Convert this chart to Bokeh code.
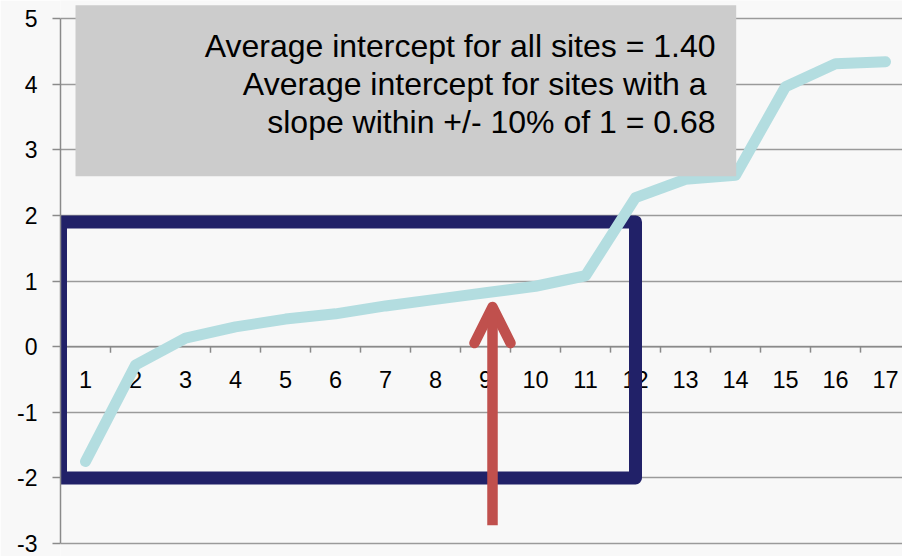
from bokeh.plotting import figure
from bokeh.models import Range1d, FixedTicker, Span, Arrow, OpenHead
from bokeh.core.properties import value
from bokeh.embed import file_html
from bokeh.resources import INLINE
import numpy as np

# Site number (sorted by intercept) and fitted intercept
sites = [str(i) for i in range(1, 18)]
intercepts = [-1.75, -0.28, 0.13, 0.30, 0.42, 0.50, 0.62, 0.72, 0.82,
              0.92, 1.08, 2.27, 2.55, 2.61, 3.96, 4.31, 4.34]
y_ticks = [-3, -2, -1, 0, 1, 2, 3, 4, 5]
y_tick_labels = ["-3", "-2", "-1", "0", "1", "2", "3", "4", "5"]
note_lines = ["Average intercept for all sites = 1.40",
              "Average intercept for sites with a",
              "slope within +/- 10% of 1 = 0.68"]

W, H = 902, 556
LEFT = 60            # frame left edge in px
X_UNIT = 50          # px per category
Y_UNIT = 65.625      # px per y unit
SHIFT = 2            # lift the whole drawing so the lowest label fits
Y_ZERO = 348.125 - SHIFT   # px row of y = 0

def dx(px):
    return 0.5 + (px - LEFT) / X_UNIT

def dy(py):
    return (Y_ZERO - (py - SHIFT)) / Y_UNIT

def frame_y(py):
    return (Y_ZERO - py) / Y_UNIT

FONT = value("Liberation Sans")
BG = "#F8F8F8"
GRID = "#9A9A9A"
TEAL = "#B3DDE0"
NAVY = "#212168"
RED = "#C0504D"

p = figure(width=W, height=H, output_backend="svg", toolbar_location=None,
           x_axis_location=None,
           x_range=Range1d(0.5, dx(W)), y_range=Range1d(frame_y(H), frame_y(0)),
           min_border_left=LEFT, min_border_right=0,
           min_border_top=0, min_border_bottom=0)
p.background_fill_color = BG
p.border_fill_color = BG
p.outline_line_color = None
p.xgrid.visible = False

ticker = FixedTicker(ticks=y_ticks)
p.yaxis.ticker = ticker
p.yaxis.bounds = (y_ticks[0], y_ticks[-1])
p.yaxis.major_label_overrides = dict(zip(y_ticks, y_tick_labels))
p.yaxis.axis_line_color = "#8A8A8A"
p.yaxis.axis_line_width = 1.5
p.yaxis.major_tick_line_color = "#8A8A8A"
p.yaxis.major_tick_line_width = 1.5
p.yaxis.major_tick_out = 8
p.yaxis.major_tick_in = 0
p.yaxis.minor_tick_line_color = None
p.yaxis.major_label_standoff = 15
p.yaxis.major_label_text_font = "Liberation Sans"
p.yaxis.major_label_text_font_size = "23px"
p.yaxis.major_label_text_color = "black"

p.ygrid.ticker = ticker
p.ygrid.grid_line_color = GRID
p.ygrid.grid_line_width = 1.6

# category axis running along y = 0
xs = np.arange(1, len(sites) + 1)
p.add_layout(Span(location=0, dimension="width", line_color="#8A8A8A",
                  line_width=1.5, level="underlay"))
bounds = xs[:-1] + 0.5
p.segment(x0=bounds, y0=0, x1=bounds, y1=-6 / Y_UNIT,
          line_color="#8A8A8A", line_width=1.5)
p.text(x=xs, y=0, text=sites, text_align="center", text_baseline="middle",
       y_offset=33, text_font=FONT, text_font_size="23.5px", text_color="black")

# highlighted region
p.quad(left=0.5, right=12.0, top=1.9, bottom=-2.0, fill_color=None,
       line_color=NAVY, line_width=13, line_join="round")

# intercept curve
p.line(xs, intercepts, line_color=TEAL, line_width=11,
       line_cap="round", line_join="round")

# note box
p.quad(left=dx(75), right=dx(735.7), top=dy(6.7), bottom=dy(177.7),
       fill_color="#CCCCCC", line_color=None)
p.text(x=[dx(715), dx(706), dx(715)],
       y=[dy(47.5), dy(85.5), dy(123.5)], text=note_lines,
       text_align="right", text_baseline="alphabetic",
       text_font=FONT, text_font_size="32px", text_color="black")

# pointer arrow
p.add_layout(Arrow(x_start=dx(492), y_start=dy(526.7),
                   x_end=dx(492), y_end=dy(308.5),
                   line_color=RED, line_width=10.5, line_cap="butt",
                   end=OpenHead(size=36, line_color=RED, line_width=10.5,
                                line_cap="round", line_join="round")))

open("out.html", "w").write(file_html(p, INLINE))
